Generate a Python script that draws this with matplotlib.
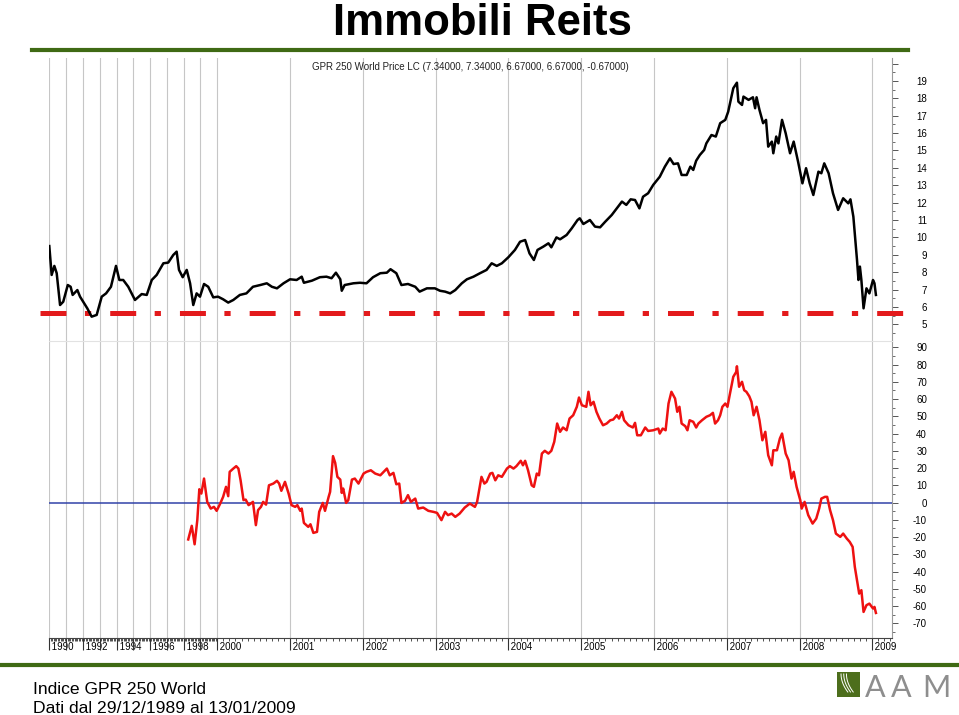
import matplotlib
matplotlib.use("Agg")
import matplotlib.pyplot as plt
import numpy as np
from matplotlib.lines import Line2D

# GPR 250 World price (top panel)
price_years = [
    1990.00, 1990.14, 1990.30, 1990.44, 1990.64, 1990.83, 1991.10, 1991.27, 1991.39, 1991.67,
    1991.83, 1992.26, 1992.52, 1992.82, 1993.12, 1993.38, 1993.67, 1993.97, 1994.17, 1994.40,
    1994.70, 1995.10, 1995.50, 1995.80, 1996.10, 1996.39, 1996.79, 1997.08, 1997.38, 1997.58,
    1997.72, 1997.94, 1998.18, 1998.38, 1998.57, 1998.77, 1998.97, 1999.21, 1999.46, 1999.76,
    2000.01, 2000.08, 2000.15, 2000.22, 2000.31, 2000.40, 2000.49, 2000.59, 2000.68, 2000.75,
    2000.82, 2000.91, 2001.00, 2001.09, 2001.16, 2001.19, 2001.30, 2001.41, 2001.50, 2001.57,
    2001.63, 2001.69, 2001.71, 2001.75, 2001.87, 2001.96, 2002.05, 2002.14, 2002.24, 2002.33,
    2002.38, 2002.46, 2002.53, 2002.62, 2002.72, 2002.78, 2002.88, 2002.99, 2003.06, 2003.13,
    2003.20, 2003.27, 2003.36, 2003.43, 2003.52, 2003.61, 2003.70, 2003.77, 2003.84, 2003.91,
    2004.00, 2004.09, 2004.16, 2004.23, 2004.29, 2004.35, 2004.40, 2004.48, 2004.55, 2004.59,
    2004.66, 2004.71, 2004.80, 2004.87, 2004.95, 2004.98, 2005.03, 2005.12, 2005.19, 2005.26,
    2005.33, 2005.42, 2005.49, 2005.56, 2005.62, 2005.68, 2005.74, 2005.80, 2005.85, 2005.92,
    2005.99, 2006.08, 2006.15, 2006.22, 2006.27, 2006.33, 2006.38, 2006.45, 2006.50, 2006.54,
    2006.58, 2006.63, 2006.69, 2006.72, 2006.79, 2006.85, 2006.91, 2006.98, 2007.02, 2007.09,
    2007.14, 2007.16, 2007.21, 2007.23, 2007.30, 2007.36, 2007.39, 2007.41, 2007.45, 2007.50,
    2007.54, 2007.57, 2007.62, 2007.64, 2007.68, 2007.71, 2007.76, 2007.81, 2007.87, 2007.92,
    2007.98, 2008.04, 2008.09, 2008.14, 2008.19, 2008.26, 2008.30, 2008.34, 2008.40, 2008.46,
    2008.53, 2008.60, 2008.67, 2008.70, 2008.74, 2008.79, 2008.81, 2008.83, 2008.85, 2008.88,
    2008.92, 2008.96, 2009.01, 2009.03, 2009.05,
]
price_values = [
    9.5, 7.84, 8.36, 7.94, 6.11, 6.3, 7.26, 7.16, 6.69, 6.97,
    6.59, 5.92, 5.44, 5.54, 6.59, 6.78, 7.16, 8.36, 7.55, 7.55,
    7.16, 6.4, 6.74, 6.69, 7.55, 7.84, 8.51, 8.55, 8.99, 9.18,
    8.13, 7.71, 8.13, 7.36, 6.11, 6.78, 6.59, 7.32, 7.16, 6.55,
    6.59, 6.44, 6.25, 6.4, 6.69, 6.78, 7.16, 7.26, 7.36, 7.16,
    7.07, 7.36, 7.59, 7.55, 7.74, 7.39, 7.51, 7.71, 7.74, 7.65,
    7.97, 7.59, 6.93, 7.26, 7.36, 7.39, 7.36, 7.71, 7.94, 7.97,
    8.17, 7.94, 7.26, 7.32, 7.16, 6.88, 7.07, 7.07, 6.93, 6.88,
    6.78, 6.97, 7.36, 7.59, 7.74, 7.94, 8.13, 8.51, 8.36, 8.51,
    8.86, 9.28, 9.75, 9.85, 9.08, 8.7, 9.28, 9.47, 9.66, 9.43,
    10.0, 9.89, 10.14, 10.52, 11.0, 11.1, 10.77, 11.0, 10.62, 10.58,
    10.9, 11.29, 11.67, 12.06, 11.87, 12.19, 12.15, 11.67, 12.34, 12.54,
    13.02, 13.49, 14.07, 14.55, 14.22, 14.26, 13.59, 13.59, 14.07, 13.88,
    14.41, 14.74, 15.03, 15.41, 15.89, 15.8, 16.57, 16.76, 17.23, 18.58,
    18.9, 17.81, 17.62, 18.1, 17.91, 18.06, 17.43, 18.06, 17.33, 16.57,
    16.76, 15.22, 15.51, 14.84, 15.8, 15.41, 16.76, 15.99, 14.84, 15.51,
    14.36, 13.11, 13.98, 13.11, 12.44, 13.78, 13.69, 14.26, 13.69, 12.54,
    11.58, 12.25, 11.96, 12.19, 11.19, 8.7, 7.55, 8.32, 7.55, 5.92,
    7.07, 6.78, 7.55, 7.36, 6.69,
]

# oscillator (bottom panel)
osc_years = [
    1998.27, 1998.48, 1998.65, 1998.81, 1998.93, 1999.05, 1999.21, 1999.40, 1999.61, 1999.80,
    1999.96, 2000.04, 2000.08, 2000.12, 2000.15, 2000.17, 2000.22, 2000.26, 2000.29, 2000.32,
    2000.36, 2000.39, 2000.43, 2000.46, 2000.49, 2000.53, 2000.56, 2000.60, 2000.63, 2000.67,
    2000.71, 2000.77, 2000.82, 2000.85, 2000.88, 2000.93, 2000.98, 2001.02, 2001.07, 2001.10,
    2001.14, 2001.16, 2001.19, 2001.25, 2001.28, 2001.32, 2001.37, 2001.40, 2001.45, 2001.48,
    2001.53, 2001.55, 2001.59, 2001.62, 2001.65, 2001.69, 2001.71, 2001.73, 2001.77, 2001.80,
    2001.85, 2001.89, 2001.94, 2002.01, 2002.05, 2002.11, 2002.17, 2002.24, 2002.33, 2002.37,
    2002.42, 2002.46, 2002.50, 2002.53, 2002.58, 2002.62, 2002.66, 2002.72, 2002.76, 2002.83,
    2002.90, 2002.97, 2003.02, 2003.08, 2003.13, 2003.17, 2003.22, 2003.27, 2003.33, 2003.40,
    2003.47, 2003.54, 2003.57, 2003.63, 2003.67, 2003.70, 2003.75, 2003.78, 2003.82, 2003.86,
    2003.91, 2003.98, 2004.02, 2004.07, 2004.11, 2004.17, 2004.20, 2004.23, 2004.27, 2004.32,
    2004.35, 2004.39, 2004.42, 2004.46, 2004.50, 2004.55, 2004.59, 2004.63, 2004.67, 2004.71,
    2004.75, 2004.80, 2004.84, 2004.89, 2004.94, 2004.97, 2005.01, 2005.07, 2005.10, 2005.13,
    2005.17, 2005.21, 2005.25, 2005.30, 2005.35, 2005.40, 2005.44, 2005.49, 2005.52, 2005.56,
    2005.59, 2005.65, 2005.71, 2005.74, 2005.77, 2005.82, 2005.88, 2005.92, 2005.99, 2006.06,
    2006.08, 2006.12, 2006.16, 2006.20, 2006.24, 2006.29, 2006.32, 2006.35, 2006.38, 2006.43,
    2006.46, 2006.49, 2006.54, 2006.58, 2006.61, 2006.66, 2006.72, 2006.77, 2006.81, 2006.84,
    2006.88, 2006.91, 2006.94, 2006.98, 2007.01, 2007.04, 2007.09, 2007.13, 2007.14, 2007.17,
    2007.21, 2007.24, 2007.27, 2007.31, 2007.34, 2007.37, 2007.41, 2007.45, 2007.49, 2007.53,
    2007.57, 2007.62, 2007.64, 2007.69, 2007.73, 2007.76, 2007.81, 2007.85, 2007.89, 2007.92,
    2007.96, 2008.01, 2008.03, 2008.07, 2008.12, 2008.18, 2008.23, 2008.27, 2008.30, 2008.35,
    2008.38, 2008.42, 2008.46, 2008.50, 2008.56, 2008.60, 2008.65, 2008.69, 2008.73, 2008.76,
    2008.79, 2008.82, 2008.85, 2008.88, 2008.92, 2008.96, 2009.01, 2009.03, 2009.05,
]
osc_values = [
    -21.4, -13.5, -24.2, -10.2, 7.7, 5.2, 13.9, 0.4, -3.5, -2.5,
    -4.8, -0.6, 3.3, 9.1, 3.7, 17.8, 19.7, 21.1, 19.7, 12.9,
    1.4, 1.7, -1.5, -0.6, 0.4, -13.1, -4.4, -2.5, 0.4, -1.2,
    10.0, 11.0, 12.6, 11.0, 6.8, 12.0, 5.2, -1.5, -2.5, -1.5,
    -4.8, -3.5, -11.8, -14.1, -12.6, -17.6, -17.0, -5.4, -0.2, -4.8,
    3.3, 6.2, 26.9, 23.0, 14.9, 13.3, 5.6, 8.1, -0.2, 1.4,
    13.3, 13.9, 11.0, 16.8, 17.8, 18.7, 16.8, 15.8, 19.7, 15.8,
    17.2, 10.6, 11.0, -0.2, 1.0, 4.3, 0.4, 2.3, -3.5, -2.9,
    -4.8, -5.4, -6.0, -10.2, -5.4, -7.3, -6.4, -8.3, -6.4, -2.9,
    -0.6, -2.5, 0.4, 14.9, 11.0, 12.0, 16.8, 17.2, 12.9, 15.8,
    14.9, 19.7, 21.1, 19.7, 21.1, 24.2, 21.6, 24.2, 18.7, 10.0,
    9.1, 16.8, 15.8, 28.4, 30.0, 28.4, 30.0, 35.2, 45.8, 41.0,
    43.5, 41.9, 48.7, 50.6, 55.5, 60.9, 56.4, 55.5, 64.2, 56.4,
    58.4, 52.6, 48.7, 44.8, 45.8, 47.7, 48.1, 50.6, 48.7, 52.6,
    47.7, 44.8, 43.5, 46.2, 39.0, 39.0, 43.5, 41.5, 41.9, 42.9,
    40.0, 42.9, 41.9, 57.4, 64.2, 60.3, 52.6, 55.5, 45.8, 44.3,
    41.9, 47.7, 46.8, 43.5, 45.8, 47.7, 49.7, 50.6, 52.0, 45.8,
    47.7, 50.6, 55.5, 57.4, 55.5, 62.2, 72.9, 75.7, 79.0, 67.1,
    70.0, 65.1, 64.2, 61.6, 58.4, 50.6, 55.5, 47.7, 36.1, 41.0,
    27.4, 21.6, 30.3, 30.3, 37.1, 40.0, 28.4, 24.5, 13.9, 17.8,
    9.1, 1.4, -3.5, 0.4, -7.3, -12.2, -9.3, -3.5, 2.3, 3.3,
    3.3, -4.4, -10.2, -18.0, -19.9, -18.0, -20.9, -22.8, -25.7, -37.3,
    -45.0, -52.8, -50.8, -63.4, -59.5, -58.6, -61.4, -60.5, -64.0,
]

channel_level = 5.63
year_ticks = list(range(1990, 2010))
year_labels = [(" " + str(y)) if (y >= 2000 or y % 2 == 0) else "" for y in year_ticks]
price_ticks = list(range(5, 21))
osc_ticks = list(range(-70, 100, 10))

plt.rcParams["font.family"] = ["Liberation Sans Narrow", "Liberation Sans", "DejaVu Sans"]

# the 1990s are squeezed: one year there is ~0.23 of a year after 2000
RATIO = 16.8 / 72.78


def fwd(t):
    t = np.asarray(t, dtype=float)
    return np.where(t < 2000, (t - 1990) * RATIO, 10 * RATIO + (t - 2000))


def inv(u):
    u = np.asarray(u, dtype=float)
    return np.where(u < 10 * RATIO, 1990 + u / RATIO, 2000 + u - 10 * RATIO)


W, H = 959, 715
fig = plt.figure(figsize=(W / 100, H / 100), dpi=100)
fig.patch.set_facecolor("white")

left = 48.8 / W
width = (892.3 - 48.8) / W
ax1 = fig.add_axes([left, 1 - 341 / H, width, 283 / H])
ax2 = fig.add_axes([left, 1 - 638.3 / H, width, 297.3 / H], sharex=ax1)

ax1.set_xscale("function", functions=(fwd, inv))
ax1.set_xlim(1989.97, 2009.275)
ax1.set_ylim(4.04, 20.32)
ax2.set_ylim(-78.7, 93.65)

grid_col = "#c6c6c6"
for ax in (ax1, ax2):
    ax.set_facecolor("white")
    ax.spines["left"].set_visible(False)
    ax.spines["right"].set_color("#9a9a9a")
    ax.spines["right"].set_linewidth(0.8)
    ax.yaxis.tick_right()
    ax.tick_params(axis="y", which="major", length=4.3, width=0.7, color="#555555",
                   pad=20.7, labelsize=7)
    ax.tick_params(axis="y", which="minor", length=2, width=0.6, color="#555555")

ax1.spines["top"].set_visible(False)
ax1.spines["bottom"].set_visible(False)
ax2.spines["top"].set_color("#e2e2e2")
ax2.spines["top"].set_linewidth(0.8)
ax2.spines["bottom"].set_color("#444444")
ax2.spines["bottom"].set_linewidth(0.8)

# x axis (shared)
ax2.set_xticks(year_ticks, labels=year_labels, ha="left")
ax2.set_xticks(np.arange(1990, 2009.3, 1 / 12), minor=True)
ax1.tick_params(axis="x", which="both", bottom=False, labelbottom=False)
ax2.tick_params(axis="x", which="major", direction="out", length=8.6, width=0.8,
                color="#333333", pad=-5.8, labelsize=7)
ax2.tick_params(axis="x", which="minor", direction="out", length=2.2, width=0.6,
                color="#333333")
ax1.grid(axis="x", which="major", color=grid_col, linewidth=0.8)
ax2.grid(axis="x", which="major", color=grid_col, linewidth=0.8)

# y axes
ax1.set_yticks(price_ticks, labels=[str(v) if v < 20 else "" for v in price_ticks], ha="right")
ax1.set_yticks(np.arange(4.5, 20.5, 1), minor=True)
ax2.set_yticks(osc_ticks, labels=[str(v) for v in osc_ticks], ha="right")
ax2.set_yticks(np.arange(-75, 95, 10), minor=True)

# top panel: price and red channel line
lw = 3.6
ax1.axhline(channel_level, xmin=(40 - 48.8) / 843.5, xmax=(903 - 48.8) / 843.5,
            color="#e31a1c", linewidth=lw, clip_on=False, zorder=3,
            dashes=(18.7 / lw, 13.3 / lw, 4.5 / lw, 13.7 / lw))
ax1.plot(price_years, price_values, color="black", linewidth=1.8, zorder=5)
ax1.text(0.5, 0.968, "GPR 250 World Price LC (7.34000, 7.34000, 6.67000, 6.67000, -0.67000)",
         transform=ax1.transAxes, ha="center", va="center", fontsize=7, color="#222222")

# bottom panel: oscillator
ax2.axhline(0, color="#3142a8", linewidth=1.1, zorder=3)
ax2.plot(osc_years, osc_values, color="#ee1111", linewidth=1.8, zorder=4)

# page decorations
green = "#3f6a14"
fig.add_artist(Line2D([32 / W, 908 / W], [1 - 50.3 / H] * 2, color=green,
                      linewidth=3, transform=fig.transFigure))
fig.add_artist(Line2D([0, 1], [1 - 665 / H] * 2, color=green,
                      linewidth=3, transform=fig.transFigure))
fig.text(482 / W, 1 - 35 / H, "Immobili Reits", ha="center", va="baseline",
         fontsize=31.5, fontweight="bold", family="Liberation Sans")
fig.text(33 / W, 1 - 694 / H, "Indice GPR 250 World", ha="left", va="baseline",
         fontsize=12.6, family="Liberation Sans")
fig.text(33 / W, 1 - 713 / H, "Dati dal 29/12/1989 al 13/01/2009", ha="left",
         va="baseline", fontsize=12.6, family="Liberation Sans")

# logo
lax = fig.add_axes([837 / W, 1 - 697 / H, 22.5 / W, 25 / H])
lax.set_facecolor("#4d6e1c")
lax.set_xlim(0, 1)
lax.set_ylim(0, 1)
lax.set_xticks([])
lax.set_yticks([])
for s in lax.spines.values():
    s.set_visible(False)
tt = np.linspace(0, 1, 30)
for x0 in (0.18, 0.30, 0.42):
    lax.plot(x0 + 0.3 * tt ** 2, 0.92 - 0.72 * tt, color="white", linewidth=0.7)
for ch, cx in (("A", 875.5), ("A", 901.5), ("M", 936.5)):
    fig.text(cx / W, 1 - 697 / H, ch, ha="center", va="baseline", fontsize=22,
             color="#8e8e8e", family=["Lato", "Liberation Sans"], fontweight="normal")

fig.savefig("out.png", dpi=100, facecolor="white")
